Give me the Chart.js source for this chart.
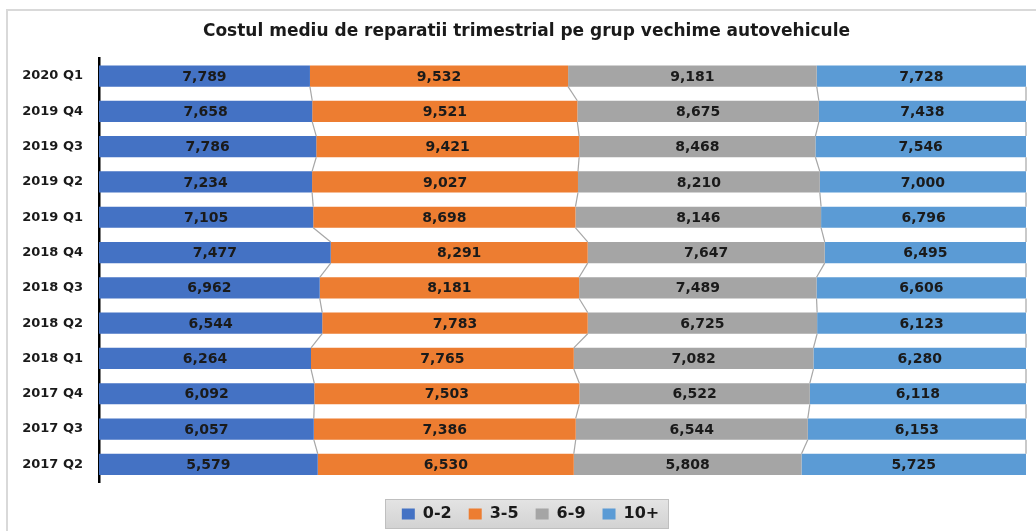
<!DOCTYPE html>
<html>
<head>
<meta charset="utf-8">
<script src="https://cdn.jsdelivr.net/npm/chart.js@4.4.1/dist/chart.umd.min.js"></script>
<style>
  html, body { margin: 0; padding: 0; background: #ffffff; }
  #wrap { width: 1036px; height: 531px; position: relative; }
</style>
</head>
<body>
<div id="wrap"><canvas id="c" width="1036" height="531"></canvas></div>
<script>
const categories = ["2020 Q1","2019 Q4","2019 Q3","2019 Q2","2019 Q1","2018 Q4","2018 Q3","2018 Q2","2018 Q1","2017 Q4","2017 Q3","2017 Q2"];
const seriesNames = ["0-2","3-5","6-9","10+"];
const age0_2  = [7789,7658,7786,7234,7105,7477,6962,6544,6264,6092,6057,5579];
const age3_5  = [9532,9521,9421,9027,8698,8291,8181,7783,7765,7503,7386,6530];
const age6_9  = [9181,8675,8468,8210,8146,7647,7489,6725,7082,6522,6544,5808];
const age10p  = [7728,7438,7546,7000,6796,6495,6606,6123,6280,6118,6153,5725];
const colors  = ["#4472C4","#ED7D31","#A5A5A5","#5B9BD5"];

const raw = [age0_2, age3_5, age6_9, age10p];
const totals = categories.map((_, i) => raw.reduce((s, a) => s + a[i], 0));
const pct = raw.map(a => a.map((v, i) => v / totals[i] * 100));

const FONT = "'DejaVu Sans', Verdana, sans-serif";

const frame = {
  id: 'frame',
  afterLayout(chart) {
    const lg = chart.legend;
    if (lg) { lg.left += 14; lg.right += 14; lg.top += 7; lg.bottom += 7; }
    const tt = chart.titleBlock;
    if (tt) { tt.left += 10; tt.right += 10; }
  },
  beforeDraw(chart) {
    const ctx = chart.ctx;
    ctx.save();
    ctx.strokeStyle = '#d9d9d9';
    ctx.lineWidth = 2;
    ctx.strokeRect(7, 10, 1040, 540);
    const x0 = 385, x1 = 669, y0 = 499, y1 = 529;
    const g = ctx.createLinearGradient(0, y0, 0, y1);
    g.addColorStop(0, '#e4e4e4');
    g.addColorStop(1, '#d2d2d2');
    ctx.fillStyle = g;
    ctx.fillRect(x0, y0, x1 - x0, y1 - y0);
    ctx.strokeStyle = '#bfbfbf';
    ctx.lineWidth = 1;
    ctx.strokeRect(x0 + 0.5, y0 + 0.5, x1 - x0 - 1, y1 - y0 - 1);
    ctx.restore();
  }
};

const seriesLines = {
  id: 'seriesLines',
  afterDatasetsDraw(chart) {
    const ctx = chart.ctx;
    ctx.save();
    ctx.strokeStyle = '#a6a6a6';
    ctx.lineWidth = 1.2;
    chart.data.datasets.forEach((ds, d) => {
      const meta = chart.getDatasetMeta(d);
      for (let i = 0; i < meta.data.length - 1; i++) {
        const a = meta.data[i], b = meta.data[i + 1];
        ctx.beginPath();
        ctx.moveTo(a.x, a.y + a.height / 2);
        ctx.lineTo(b.x, b.y - b.height / 2);
        ctx.stroke();
      }
    });
    ctx.fillStyle = '#1a1a1a';
    ctx.font = "bold 14px " + FONT;
    ctx.textAlign = 'center';
    ctx.textBaseline = 'middle';
    chart.data.datasets.forEach((ds, d) => {
      const meta = chart.getDatasetMeta(d);
      meta.data.forEach((el, i) => {
        const cx = (el.base + el.x) / 2;
        ctx.fillText(raw[d][i].toLocaleString('en-US'), cx, el.y + 1);
      });
    });
    ctx.restore();
  }
};

new Chart(document.getElementById('c'), {
  type: 'bar',
  data: {
    labels: categories,
    datasets: seriesNames.map((n, d) => ({
      label: n,
      data: pct[d],
      backgroundColor: colors[d],
      borderWidth: 0,
      barPercentage: 0.6,
      categoryPercentage: 1.0
    }))
  },
  options: {
    indexAxis: 'y',
    responsive: false,
    animation: false,
    layout: { padding: { left: 7, right: 10, top: 10, bottom: 6 } },
    scales: {
      x: { stacked: true, min: 0, max: 100, display: false },
      y: {
        stacked: true,
        grid: { display: false, drawTicks: false },
        border: { display: true, color: '#000000', width: 2.5 },
        ticks: {
          color: '#1a1a1a',
          font: { family: FONT, size: 13, weight: 'bold' },
          padding: 16
        },
        afterFit(scale) { scale.width = 92; }
      }
    },
    plugins: {
      tooltip: { enabled: false },
      title: {
        display: true,
        text: 'Costul mediu de reparatii trimestrial pe grup vechime autovehicule',
        color: '#1a1a1a',
        font: { family: FONT, size: 17, weight: 'bold' },
        padding: { top: 11, bottom: 17 }
      },
      legend: {
        display: true,
        position: 'bottom',
        labels: {
          color: '#1a1a1a',
          font: { family: FONT, size: 16, weight: 'bold' },
          boxWidth: 13,
          boxHeight: 11,
          padding: 17
        }
      }
    }
  },
  plugins: [frame, seriesLines]
});
</script>
</body>
</html>
